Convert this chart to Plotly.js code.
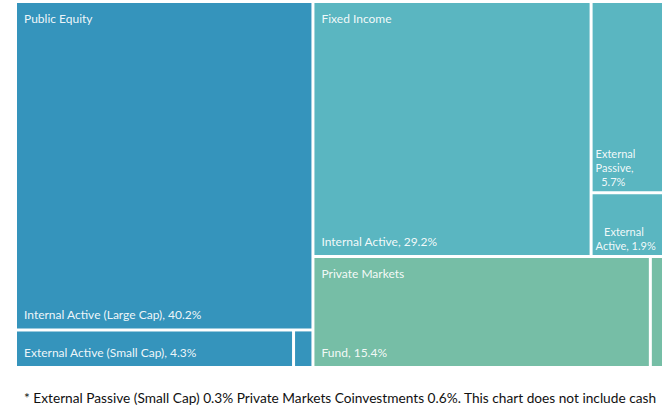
<!DOCTYPE html>
<html><head><meta charset="utf-8">
<script src="https://cdn.plot.ly/plotly-3.0.1.min.js"></script>
<style>html,body{margin:0;padding:0;background:#fff}#chart{width:666px;height:405px}</style>
</head><body><div id="chart"></div>
<script>
const groups = ['Public Equity', 'Fixed Income', 'Private Markets'];
const groupColors = ['#3594BC', '#5AB6C1', '#76BEA6'];
const leafLabels = ['Internal Active (Large Cap)', 'External Active (Small Cap)', 'External Passive (Small Cap)',
  'Internal Active', 'External Passive', 'External Active', 'Fund', 'Coinvestments'];
const leafParents = ['Public Equity', 'Public Equity', 'Public Equity',
  'Fixed Income', 'Fixed Income', 'Fixed Income', 'Private Markets', 'Private Markets'];
const leafValues = [40.2, 4.3, 0.3, 29.2, 5.7, 1.9, 15.4, 0.6];
// labels drawn at bottom-left of wide cells
const wideText = ['Internal Active (Large Cap), 40.2%', 'External Active (Small Cap), 4.3%', '',
  'Internal Active, 29.2%', '', '', 'Fund, 15.4%', ''];
// wrapped labels for narrow cells
const narrowText = ['', '', '', '', 'External<br>Passive,<br>\u00A0\u00A05.7%', '\u00A0\u00A0\u00A0External<br>Active, 1.9%', '', ''];
const footnote = '* External Passive (Small Cap) 0.3% Private Markets Coinvestments 0.6%. This chart does not include cash';

const ids = groups.concat(leafLabels);
const parents = groups.map(() => '').concat(leafParents);
const values = groups.map(() => 0).concat(leafValues);
const colors = groups.map(() => 'rgba(0,0,0,0)').concat(leafParents.map(p => groupColors[groups.indexOf(p)]));
const clear = ids.map(() => 'rgba(0,0,0,0)');
const blank = groups.map(() => '');
// group names shown at top-left of the largest child of each group
const headerText = blank.concat(leafLabels.map((l, i) => {
  const p = leafParents[i];
  const sibs = leafValues.filter((v, j) => leafParents[j] === p);
  return leafValues[i] === Math.max(...sibs) ? p : '';
}));

const W = 666, H = 405;
const L = 17, R = 662, T = 3, B = 366;
function dom(dx, dy) {
  return {x: [(L + dx) / W, (R + dx) / W], y: [1 - (B + dy) / H, 1 - (T + dy) / H]};
}
const font = 'Lato, "Open Sans", sans-serif';
const tf = {family: font, size: 12, color: 'rgba(255,255,255,0.93)'};

function tm(extra) {
  return Object.assign({
    type: 'treemap',
    ids: ids, labels: ids, parents: parents, values: values,
    branchvalues: 'remainder',
    sort: true,
    tiling: {packing: 'squarify', pad: 3},
    pathbar: {visible: false},
    leaf: {opacity: 1},
    textinfo: 'text',
    textfont: tf,
    hoverinfo: 'skip'
  }, extra);
}

const cells = tm({
  domain: dom(0, 0),
  text: blank.concat(narrowText),
  textposition: 'bottom left',
  textfont: Object.assign({}, tf, {size: 11}),
  marker: {colors: colors, line: {width: 0}, pad: {t: 0, l: 0, r: 0, b: 0}},
  hoverinfo: 'label+value'
});
const headers = tm({
  domain: dom(4, 5),
  text: headerText,
  textposition: 'top left',
  marker: {colors: clear, line: {width: 0}, pad: {t: 0, l: 0, r: 0, b: 0}}
});
const bottoms = tm({
  domain: dom(4, -3),
  text: blank.concat(wideText),
  textposition: 'bottom left',
  marker: {colors: clear, line: {width: 0}, pad: {t: 0, l: 0, r: 0, b: 0}}
});

const layout = {
  width: W, height: H,
  margin: {l: 0, r: 0, t: 0, b: 0},
  paper_bgcolor: '#fff',
  showlegend: false,
  annotations: [{
    text: footnote, xref: 'paper', yref: 'paper',
    x: 22 / W, y: 1 - 397 / H, xanchor: 'left', yanchor: 'middle',
    showarrow: false, font: {family: font, size: 13.7, color: '#111'}
  }]
};
Plotly.newPlot('chart', [cells, headers, bottoms], layout, {displayModeBar: false, staticPlot: true});
</script></body></html>
